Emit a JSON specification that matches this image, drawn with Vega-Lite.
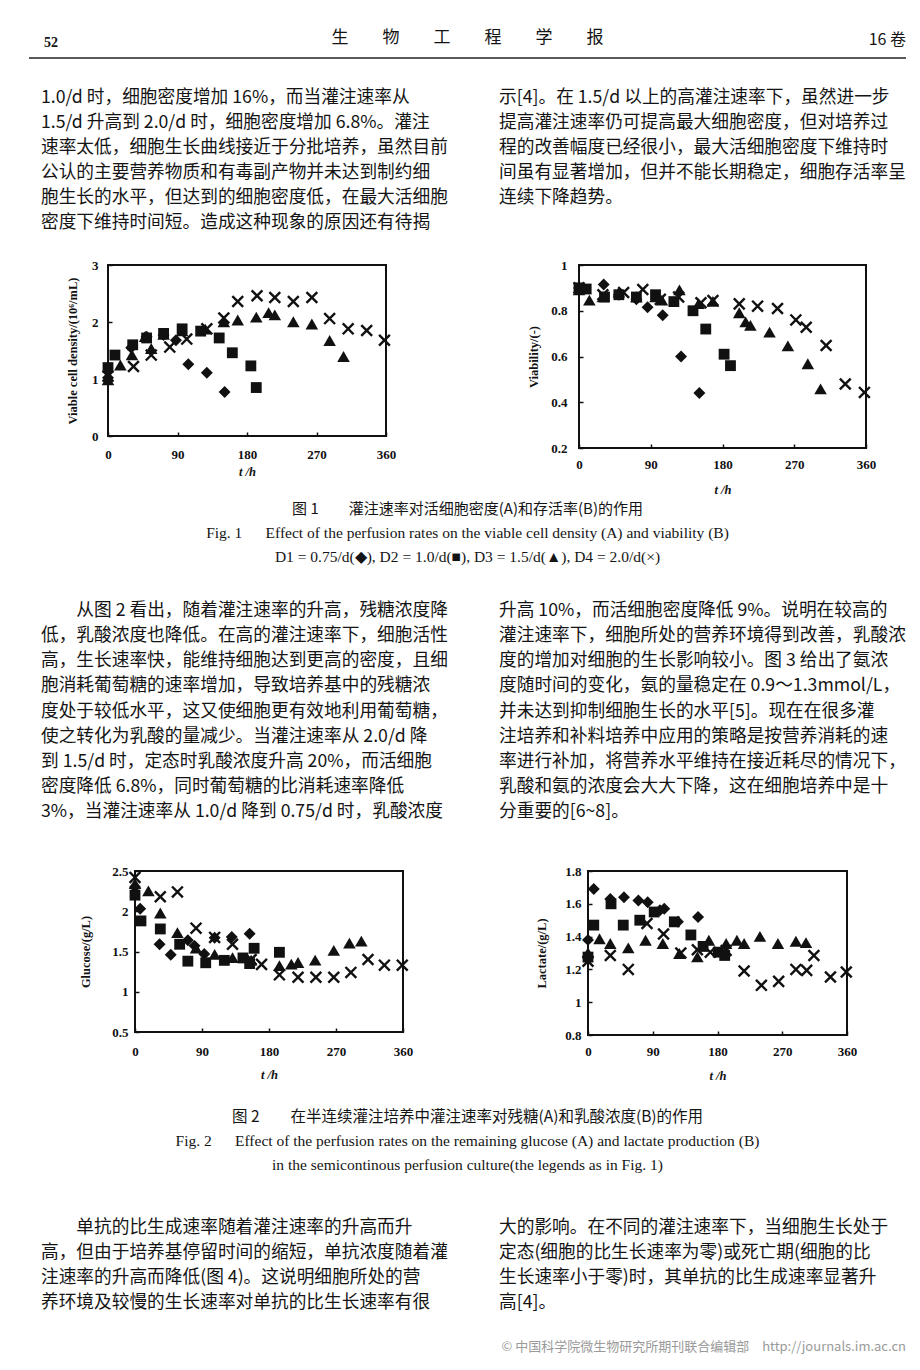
{
  "$schema": "https://vega.github.io/schema/vega-lite/v6.json",
  "background": "white",
  "padding": {"left": 28, "top": 28, "right": 0, "bottom": 0},
  "spacing": 0,
  "datasets": {
    "header": [
      {"slot": "left", "text": "52"},
      {"slot": "center", "text": "生\u3000\u3000物\u3000\u3000工\u3000\u3000程\u3000\u3000学\u3000\u3000报"},
      {"slot": "right", "text": "16 卷"}
    ],
    "para1": [
      {"col": "L", "line": 1, "text": "1.0/d 时，细胞密度增加 16%，而当灌注速率从"},
      {"col": "L", "line": 2, "text": "1.5/d 升高到 2.0/d 时，细胞密度增加 6.8%。灌注"},
      {"col": "L", "line": 3, "text": "速率太低，细胞生长曲线接近于分批培养，虽然目前"},
      {"col": "L", "line": 4, "text": "公认的主要营养物质和有毒副产物并未达到制约细"},
      {"col": "L", "line": 5, "text": "胞生长的水平，但达到的细胞密度低，在最大活细胞"},
      {"col": "L", "line": 6, "text": "密度下维持时间短。造成这种现象的原因还有待揭"},
      {"col": "R", "line": 1, "text": "示[4]。在 1.5/d 以上的高灌注速率下，虽然进一步"},
      {"col": "R", "line": 2, "text": "提高灌注速率仍可提高最大细胞密度，但对培养过"},
      {"col": "R", "line": 3, "text": "程的改善幅度已经很小，最大活细胞密度下维持时"},
      {"col": "R", "line": 4, "text": "间虽有显著增加，但并不能长期稳定，细胞存活率呈"},
      {"col": "R", "line": 5, "text": "连续下降趋势。"}
    ],
    "para2": [
      {"col": "L", "line": 1, "text": "\u200b\u3000\u3000从图 2 看出，随着灌注速率的升高，残糖浓度降"},
      {"col": "L", "line": 2, "text": "低，乳酸浓度也降低。在高的灌注速率下，细胞活性"},
      {"col": "L", "line": 3, "text": "高，生长速率快，能维持细胞达到更高的密度，且细"},
      {"col": "L", "line": 4, "text": "胞消耗葡萄糖的速率增加，导致培养基中的残糖浓"},
      {"col": "L", "line": 5, "text": "度处于较低水平，这又使细胞更有效地利用葡萄糖，"},
      {"col": "L", "line": 6, "text": "使之转化为乳酸的量减少。当灌注速率从 2.0/d 降"},
      {"col": "L", "line": 7, "text": "到 1.5/d 时，定态时乳酸浓度升高 20%，而活细胞"},
      {"col": "L", "line": 8, "text": "密度降低 6.8%，同时葡萄糖的比消耗速率降低"},
      {"col": "L", "line": 9, "text": "3%，当灌注速率从 1.0/d 降到 0.75/d 时，乳酸浓度"},
      {"col": "R", "line": 1, "text": "升高 10%，而活细胞密度降低 9%。说明在较高的"},
      {"col": "R", "line": 2, "text": "灌注速率下，细胞所处的营养环境得到改善，乳酸浓"},
      {"col": "R", "line": 3, "text": "度的增加对细胞的生长影响较小。图 3 给出了氨浓"},
      {"col": "R", "line": 4, "text": "度随时间的变化，氨的量稳定在 0.9～1.3mmol/L，"},
      {"col": "R", "line": 5, "text": "并未达到抑制细胞生长的水平[5]。现在在很多灌"},
      {"col": "R", "line": 6, "text": "注培养和补料培养中应用的策略是按营养消耗的速"},
      {"col": "R", "line": 7, "text": "率进行补加，将营养水平维持在接近耗尽的情况下，"},
      {"col": "R", "line": 8, "text": "乳酸和氨的浓度会大大下降，这在细胞培养中是十"},
      {"col": "R", "line": 9, "text": "分重要的[6~8]。"}
    ],
    "para3": [
      {"col": "L", "line": 1, "text": "\u200b\u3000\u3000单抗的比生成速率随着灌注速率的升高而升"},
      {"col": "L", "line": 2, "text": "高，但由于培养基停留时间的缩短，单抗浓度随着灌"},
      {"col": "L", "line": 3, "text": "注速率的升高而降低(图 4)。这说明细胞所处的营"},
      {"col": "L", "line": 4, "text": "养环境及较慢的生长速率对单抗的比生长速率有很"},
      {"col": "R", "line": 1, "text": "大的影响。在不同的灌注速率下，当细胞生长处于"},
      {"col": "R", "line": 2, "text": "定态(细胞的比生长速率为零)或死亡期(细胞的比"},
      {"col": "R", "line": 3, "text": "生长速率小于零)时，其单抗的比生成速率显著升"},
      {"col": "R", "line": 4, "text": "高[4]。"}
    ],
    "cap1": [
      {"line": 1, "lang": "zh", "text": "图 1\u3000\u3000灌注速率对活细胞密度(A)和存活率(B)的作用"},
      {"line": 2, "lang": "en", "text": "Fig. 1\u2003\u2002Effect of the perfusion rates on the viable cell density (A) and viability (B)"},
      {"line": 3, "lang": "en", "text": "D1 = 0.75/d(◆), D2 = 1.0/d(■), D3 = 1.5/d(▲), D4 = 2.0/d(×)"}
    ],
    "cap2": [
      {"line": 1, "lang": "zh", "text": "图 2\u3000\u3000在半连续灌注培养中灌注速率对残糖(A)和乳酸浓度(B)的作用"},
      {"line": 2, "lang": "en", "text": "Fig. 2\u2003\u2002Effect of the perfusion rates on the remaining glucose (A) and lactate production (B)"},
      {"line": 3, "lang": "en", "text": "in the semicontinous perfusion culture(the legends as in Fig. 1)"}
    ],
    "footer": [
      {"text": "© 中国科学院微生物研究所期刊联合编辑部\u2003http://journals.im.ac.cn"}
    ],
    "vcd": [
      {"s": "D1", "t": 0, "v": 1.02}, {"s": "D1", "t": 30, "v": 1.55}, {"s": "D1", "t": 50, "v": 1.74}, {"s": "D1", "t": 72, "v": 1.77}, {"s": "D1", "t": 88, "v": 1.68}, {"s": "D1", "t": 104, "v": 1.26}, {"s": "D1", "t": 128, "v": 1.11}, {"s": "D1", "t": 151, "v": 0.77},
      {"s": "D2", "t": 0, "v": 1.2}, {"s": "D2", "t": 9, "v": 1.42}, {"s": "D2", "t": 32, "v": 1.6}, {"s": "D2", "t": 50, "v": 1.72}, {"s": "D2", "t": 72, "v": 1.8}, {"s": "D2", "t": 96, "v": 1.88}, {"s": "D2", "t": 120, "v": 1.84}, {"s": "D2", "t": 144, "v": 1.72}, {"s": "D2", "t": 161, "v": 1.46}, {"s": "D2", "t": 185, "v": 1.23}, {"s": "D2", "t": 192, "v": 0.85},
      {"s": "D3", "t": 0, "v": 0.98}, {"s": "D3", "t": 16, "v": 1.24}, {"s": "D3", "t": 31, "v": 1.42}, {"s": "D3", "t": 48, "v": 1.74}, {"s": "D3", "t": 56, "v": 1.53}, {"s": "D3", "t": 72, "v": 1.78}, {"s": "D3", "t": 96, "v": 1.84}, {"s": "D3", "t": 126, "v": 1.87}, {"s": "D3", "t": 150, "v": 2.0}, {"s": "D3", "t": 168, "v": 2.03}, {"s": "D3", "t": 192, "v": 2.08}, {"s": "D3", "t": 208, "v": 2.16}, {"s": "D3", "t": 216, "v": 2.12}, {"s": "D3", "t": 240, "v": 2.0}, {"s": "D3", "t": 264, "v": 1.96}, {"s": "D3", "t": 287, "v": 1.67}, {"s": "D3", "t": 305, "v": 1.39},
      {"s": "D4", "t": 0, "v": 1.05}, {"s": "D4", "t": 33, "v": 1.22}, {"s": "D4", "t": 56, "v": 1.42}, {"s": "D4", "t": 80, "v": 1.56}, {"s": "D4", "t": 102, "v": 1.7}, {"s": "D4", "t": 128, "v": 1.88}, {"s": "D4", "t": 150, "v": 2.07}, {"s": "D4", "t": 168, "v": 2.36}, {"s": "D4", "t": 193, "v": 2.46}, {"s": "D4", "t": 216, "v": 2.43}, {"s": "D4", "t": 240, "v": 2.36}, {"s": "D4", "t": 264, "v": 2.43}, {"s": "D4", "t": 287, "v": 2.06}, {"s": "D4", "t": 311, "v": 1.88}, {"s": "D4", "t": 335, "v": 1.85}, {"s": "D4", "t": 358, "v": 1.68}
    ],
    "via": [
      {"s": "D1", "t": 0, "v": 0.9}, {"s": "D1", "t": 31, "v": 0.915}, {"s": "D1", "t": 50, "v": 0.87}, {"s": "D1", "t": 72, "v": 0.85}, {"s": "D1", "t": 86, "v": 0.815}, {"s": "D1", "t": 105, "v": 0.78}, {"s": "D1", "t": 128, "v": 0.6}, {"s": "D1", "t": 151, "v": 0.44},
      {"s": "D2", "t": 0, "v": 0.9}, {"s": "D2", "t": 9, "v": 0.895}, {"s": "D2", "t": 32, "v": 0.86}, {"s": "D2", "t": 50, "v": 0.87}, {"s": "D2", "t": 72, "v": 0.86}, {"s": "D2", "t": 96, "v": 0.87}, {"s": "D2", "t": 119, "v": 0.84}, {"s": "D2", "t": 143, "v": 0.8}, {"s": "D2", "t": 159, "v": 0.72}, {"s": "D2", "t": 182, "v": 0.61}, {"s": "D2", "t": 190, "v": 0.56},
      {"s": "D3", "t": 0, "v": 0.89}, {"s": "D3", "t": 13, "v": 0.845}, {"s": "D3", "t": 30, "v": 0.86}, {"s": "D3", "t": 50, "v": 0.88}, {"s": "D3", "t": 72, "v": 0.86}, {"s": "D3", "t": 96, "v": 0.86}, {"s": "D3", "t": 104, "v": 0.845}, {"s": "D3", "t": 126, "v": 0.89}, {"s": "D3", "t": 150, "v": 0.83}, {"s": "D3", "t": 168, "v": 0.84}, {"s": "D3", "t": 201, "v": 0.79}, {"s": "D3", "t": 209, "v": 0.75}, {"s": "D3", "t": 215, "v": 0.735}, {"s": "D3", "t": 239, "v": 0.705}, {"s": "D3", "t": 262, "v": 0.645}, {"s": "D3", "t": 287, "v": 0.567}, {"s": "D3", "t": 303, "v": 0.457},
      {"s": "D4", "t": 0, "v": 0.9}, {"s": "D4", "t": 30, "v": 0.87}, {"s": "D4", "t": 56, "v": 0.88}, {"s": "D4", "t": 80, "v": 0.893}, {"s": "D4", "t": 102, "v": 0.85}, {"s": "D4", "t": 125, "v": 0.86}, {"s": "D4", "t": 153, "v": 0.835}, {"s": "D4", "t": 168, "v": 0.845}, {"s": "D4", "t": 201, "v": 0.83}, {"s": "D4", "t": 224, "v": 0.82}, {"s": "D4", "t": 249, "v": 0.81}, {"s": "D4", "t": 272, "v": 0.76}, {"s": "D4", "t": 285, "v": 0.728}, {"s": "D4", "t": 310, "v": 0.648}, {"s": "D4", "t": 334, "v": 0.48}, {"s": "D4", "t": 358, "v": 0.443}
    ],
    "glc": [
      {"s": "D1", "t": 0, "v": 2.3}, {"s": "D1", "t": 7, "v": 2.03}, {"s": "D1", "t": 33, "v": 1.59}, {"s": "D1", "t": 48, "v": 1.46}, {"s": "D1", "t": 71, "v": 1.64}, {"s": "D1", "t": 80, "v": 1.57}, {"s": "D1", "t": 93, "v": 1.47}, {"s": "D1", "t": 107, "v": 1.67}, {"s": "D1", "t": 130, "v": 1.68}, {"s": "D1", "t": 154, "v": 1.72},
      {"s": "D2", "t": 0, "v": 2.2}, {"s": "D2", "t": 8, "v": 1.88}, {"s": "D2", "t": 34, "v": 1.78}, {"s": "D2", "t": 60, "v": 1.59}, {"s": "D2", "t": 71, "v": 1.38}, {"s": "D2", "t": 95, "v": 1.36}, {"s": "D2", "t": 120, "v": 1.39}, {"s": "D2", "t": 145, "v": 1.42}, {"s": "D2", "t": 154, "v": 1.35}, {"s": "D2", "t": 160, "v": 1.54}, {"s": "D2", "t": 194, "v": 1.49},
      {"s": "D3", "t": 0, "v": 2.34}, {"s": "D3", "t": 18, "v": 2.25}, {"s": "D3", "t": 34, "v": 1.975}, {"s": "D3", "t": 57, "v": 1.73}, {"s": "D3", "t": 82, "v": 1.54}, {"s": "D3", "t": 107, "v": 1.46}, {"s": "D3", "t": 131, "v": 1.42}, {"s": "D3", "t": 156, "v": 1.39}, {"s": "D3", "t": 194, "v": 1.32}, {"s": "D3", "t": 210, "v": 1.34}, {"s": "D3", "t": 219, "v": 1.36}, {"s": "D3", "t": 242, "v": 1.39}, {"s": "D3", "t": 267, "v": 1.51}, {"s": "D3", "t": 288, "v": 1.6}, {"s": "D3", "t": 304, "v": 1.625},
      {"s": "D4", "t": 0, "v": 2.42}, {"s": "D4", "t": 34, "v": 2.18}, {"s": "D4", "t": 57, "v": 2.24}, {"s": "D4", "t": 82, "v": 1.79}, {"s": "D4", "t": 107, "v": 1.675}, {"s": "D4", "t": 131, "v": 1.59}, {"s": "D4", "t": 156, "v": 1.4}, {"s": "D4", "t": 170, "v": 1.34}, {"s": "D4", "t": 194, "v": 1.21}, {"s": "D4", "t": 219, "v": 1.18}, {"s": "D4", "t": 243, "v": 1.18}, {"s": "D4", "t": 267, "v": 1.18}, {"s": "D4", "t": 290, "v": 1.24}, {"s": "D4", "t": 313, "v": 1.4}, {"s": "D4", "t": 335, "v": 1.33}, {"s": "D4", "t": 359, "v": 1.33}
    ],
    "lac": [
      {"s": "D1", "t": 0, "v": 1.38}, {"s": "D1", "t": 8, "v": 1.69}, {"s": "D1", "t": 31, "v": 1.63}, {"s": "D1", "t": 50, "v": 1.64}, {"s": "D1", "t": 70, "v": 1.62}, {"s": "D1", "t": 83, "v": 1.61}, {"s": "D1", "t": 100, "v": 1.56}, {"s": "D1", "t": 106, "v": 1.57}, {"s": "D1", "t": 125, "v": 1.49}, {"s": "D1", "t": 153, "v": 1.52},
      {"s": "D2", "t": 0, "v": 1.275}, {"s": "D2", "t": 8, "v": 1.47}, {"s": "D2", "t": 32, "v": 1.6}, {"s": "D2", "t": 49, "v": 1.47}, {"s": "D2", "t": 72, "v": 1.5}, {"s": "D2", "t": 92, "v": 1.55}, {"s": "D2", "t": 120, "v": 1.49}, {"s": "D2", "t": 143, "v": 1.41}, {"s": "D2", "t": 160, "v": 1.34}, {"s": "D2", "t": 181, "v": 1.305}, {"s": "D2", "t": 190, "v": 1.285},
      {"s": "D3", "t": 0, "v": 1.3}, {"s": "D3", "t": 16, "v": 1.385}, {"s": "D3", "t": 31, "v": 1.356}, {"s": "D3", "t": 56, "v": 1.33}, {"s": "D3", "t": 80, "v": 1.376}, {"s": "D3", "t": 104, "v": 1.356}, {"s": "D3", "t": 127, "v": 1.295}, {"s": "D3", "t": 152, "v": 1.275}, {"s": "D3", "t": 168, "v": 1.376}, {"s": "D3", "t": 192, "v": 1.356}, {"s": "D3", "t": 207, "v": 1.376}, {"s": "D3", "t": 217, "v": 1.356}, {"s": "D3", "t": 239, "v": 1.4}, {"s": "D3", "t": 264, "v": 1.356}, {"s": "D3", "t": 289, "v": 1.37}, {"s": "D3", "t": 303, "v": 1.362},
      {"s": "D4", "t": 0, "v": 1.25}, {"s": "D4", "t": 31, "v": 1.285}, {"s": "D4", "t": 56, "v": 1.2}, {"s": "D4", "t": 82, "v": 1.48}, {"s": "D4", "t": 105, "v": 1.416}, {"s": "D4", "t": 129, "v": 1.3}, {"s": "D4", "t": 152, "v": 1.32}, {"s": "D4", "t": 170, "v": 1.305}, {"s": "D4", "t": 192, "v": 1.315}, {"s": "D4", "t": 217, "v": 1.19}, {"s": "D4", "t": 241, "v": 1.103}, {"s": "D4", "t": 265, "v": 1.127}, {"s": "D4", "t": 289, "v": 1.2}, {"s": "D4", "t": 304, "v": 1.194}, {"s": "D4", "t": 314, "v": 1.285}, {"s": "D4", "t": 337, "v": 1.154}, {"s": "D4", "t": 359, "v": 1.184}
    ]
  },
  "vconcat": [
    {
      "width": 877, "height": 30,
      "data": {"name": "header"},
      "layer": [
        {"transform": [{"filter": "datum.slot === 'left'"}],
         "mark": {"type": "text", "align": "left", "baseline": "middle", "dx": 15, "font": "Liberation Serif", "fontSize": 14, "fontWeight": "bold", "color": "#141414"},
         "encoding": {"x": {"field": "slot", "type": "nominal", "scale": {"type": "point", "domain": ["left", "center", "right"], "padding": 0}, "axis": null}, "text": {"field": "text"}}},
        {"transform": [{"filter": "datum.slot === 'center'"}],
         "mark": {"type": "text", "align": "center", "baseline": "middle", "dy": -5, "font": "Noto Sans CJK SC", "fontSize": 17, "color": "#141414"},
         "encoding": {"x": {"field": "slot", "type": "nominal", "axis": null}, "text": {"field": "text"}}},
        {"transform": [{"filter": "datum.slot === 'right'"}],
         "mark": {"type": "text", "align": "right", "baseline": "middle", "dy": -3, "font": "Noto Sans CJK SC", "fontSize": 16, "color": "#141414"},
         "encoding": {"x": {"field": "slot", "type": "nominal", "axis": null}, "text": {"field": "text"}}},
        {"data": {"values": [{}]},
         "mark": {"type": "rule", "color": "#222", "strokeWidth": 1.4},
         "encoding": {"y": {"value": "height"}}}
      ]
    },
    {"width": 1, "height": 26, "data": {"values": []}, "mark": "text", "encoding": {}},
    {
      "width": 940, "height": 151,
      "data": {"name": "para1"},
      "mark": {"type": "text", "align": "left", "baseline": "middle", "font": "Noto Sans CJK SC", "fontSize": 17.7, "color": "#141414"},
      "encoding": {
        "x": {"field": "col", "type": "nominal", "bandPosition": 0, "scale": {"type": "band", "domain": ["L", "R"], "paddingInner": 0, "paddingOuter": 0.0262}, "axis": null},
        "y": {"field": "line", "type": "ordinal", "scale": {"type": "band", "paddingInner": 0, "paddingOuter": 0}, "axis": null},
        "text": {"field": "text"}
      }
    },
    {"width": 1, "height": 21.5, "data": {"values": []}, "mark": "text", "encoding": {}},
    {
      "bounds": "flush",
      "spacing": 0,
      "hconcat": [
        {"width": 79, "height": 232, "data": {"values": []}, "mark": "text", "encoding": {}},
        {
          "width": 278, "height": 171,
          "view": {"stroke": "#111", "strokeWidth": 2},
          "data": {"name": "vcd"},
          "encoding": {
            "x": {"field": "t", "type": "quantitative", "scale": {"domain": [0, 360], "nice": false}, "axis": {"values": [0, 90, 180, 270, 360], "title": "t /h", "labelPadding": 16.5, "titlePadding": 3.5}},
            "y": {"field": "v", "type": "quantitative", "scale": {"domain": [0, 3], "nice": false, "zero": false}, "axis": {"values": [0, 1, 2, 3], "format": "~g", "title": "Viable cell density/(10⁶/mL)", "labelPadding": 14, "titlePadding": 12}}
          },
          "layer": [
            {"transform": [{"filter": "datum.s !== 'D4'"}],
             "mark": {"type": "point", "filled": true, "size": 130, "opacity": 1, "color": "#111"},
             "encoding": {"shape": {"field": "s", "type": "nominal", "legend": null, "scale": {"domain": ["D1", "D2", "D3"], "range": ["M0,-1.05L1.05,0L0,1.05L-1.05,0Z", "M-0.95,-0.95L0.95,-0.95L0.95,0.95L-0.95,0.95Z", "M0,-1L1.1,0.9L-1.1,0.9Z"]}}}},
            {"transform": [{"filter": "datum.s === 'D4'"}],
             "mark": {"type": "point", "shape": "M-0.95,-0.95L0.95,0.95M-0.95,0.95L0.95,-0.95", "size": 130, "opacity": 1, "color": "#111", "strokeWidth": 2.4}},
            {"data": {"values": [{"label": "A"}]},
             "mark": {"type": "text", "font": "Liberation Serif", "fontSize": 14, "fontWeight": "bold", "color": "#111"},
             "encoding": {"x": {"datum": 331}, "y": {"datum": 0.47}, "text": {"field": "label"}}}
          ]
        },
        {"width": 193, "height": 232, "data": {"values": []}, "mark": "text", "encoding": {}},
        {
          "width": 287, "height": 183,
          "view": {"stroke": "#111", "strokeWidth": 2},
          "data": {"name": "via"},
          "encoding": {
            "x": {"field": "t", "type": "quantitative", "scale": {"domain": [0, 360], "nice": false}, "axis": {"values": [0, 90, 180, 270, 360], "title": "t /h", "labelPadding": 14, "titlePadding": 12}},
            "y": {"field": "v", "type": "quantitative", "scale": {"domain": [0.2, 1], "nice": false, "zero": false}, "axis": {"values": [0.2, 0.4, 0.6, 0.8, 1], "format": "~g", "title": "Viability/(-)", "labelPadding": 16, "titlePadding": 10}}
          },
          "layer": [
            {"transform": [{"filter": "datum.s !== 'D4'"}],
             "mark": {"type": "point", "filled": true, "size": 130, "opacity": 1, "color": "#111"},
             "encoding": {"shape": {"field": "s", "type": "nominal", "legend": null, "scale": {"domain": ["D1", "D2", "D3"], "range": ["M0,-1.05L1.05,0L0,1.05L-1.05,0Z", "M-0.95,-0.95L0.95,-0.95L0.95,0.95L-0.95,0.95Z", "M0,-1L1.1,0.9L-1.1,0.9Z"]}}}},
            {"transform": [{"filter": "datum.s === 'D4'"}],
             "mark": {"type": "point", "shape": "M-0.95,-0.95L0.95,0.95M-0.95,0.95L0.95,-0.95", "size": 130, "opacity": 1, "color": "#111", "strokeWidth": 2.4}},
            {"data": {"values": [{"label": "B"}]},
             "mark": {"type": "text", "font": "Liberation Serif", "fontSize": 14, "fontWeight": "bold", "color": "#111"},
             "encoding": {"x": {"datum": 21}, "y": {"datum": 0.314}, "text": {"field": "label"}}}
          ]
        }
      ]
    },
    {
      "width": 877, "height": 72,
      "data": {"name": "cap1"},
      "encoding": {
        "y": {"field": "line", "type": "ordinal", "scale": {"type": "band", "domain": [1, 2, 3], "paddingInner": 0, "paddingOuter": 0}, "axis": null},
        "text": {"field": "text"}
      },
      "layer": [
        {"transform": [{"filter": "datum.lang === 'zh'"}], "mark": {"type": "text", "baseline": "middle", "font": "Noto Sans CJK SC", "fontSize": 15, "color": "#141414"}},
        {"transform": [{"filter": "datum.lang === 'en'"}], "mark": {"type": "text", "baseline": "middle", "font": "Liberation Serif", "fontSize": 15.5, "color": "#141414"}}
      ]
    },
    {"width": 1, "height": 28.4, "data": {"values": []}, "mark": "text", "encoding": {}},
    {
      "width": 940, "height": 227,
      "data": {"name": "para2"},
      "mark": {"type": "text", "align": "left", "baseline": "middle", "font": "Noto Sans CJK SC", "fontSize": 17.7, "color": "#141414"},
      "encoding": {
        "x": {"field": "col", "type": "nominal", "bandPosition": 0, "scale": {"type": "band", "domain": ["L", "R"], "paddingInner": 0, "paddingOuter": 0.0262}, "axis": null},
        "y": {"field": "line", "type": "ordinal", "scale": {"type": "band", "paddingInner": 0, "paddingOuter": 0}, "axis": null},
        "text": {"field": "text"}
      }
    },
    {"width": 1, "height": 39, "data": {"values": []}, "mark": "text", "encoding": {}},
    {
      "bounds": "flush",
      "spacing": 0,
      "hconcat": [
        {"width": 106, "height": 234, "data": {"values": []}, "mark": "text", "encoding": {}},
        {
          "width": 268, "height": 161,
          "view": {"stroke": "#111", "strokeWidth": 2},
          "data": {"name": "glc"},
          "encoding": {
            "x": {"field": "t", "type": "quantitative", "scale": {"domain": [0, 360], "nice": false}, "axis": {"values": [0, 90, 180, 270, 360], "title": "t /h", "labelPadding": 17, "titlePadding": 10.5}},
            "y": {"field": "v", "type": "quantitative", "scale": {"domain": [0.5, 2.5], "nice": false, "zero": false}, "axis": {"values": [0.5, 1, 1.5, 2, 2.5], "format": "~g", "title": "Glucose/(g/L)", "labelPadding": 11, "titlePadding": 19}}
          },
          "layer": [
            {"transform": [{"filter": "datum.s !== 'D4'"}],
             "mark": {"type": "point", "filled": true, "size": 130, "opacity": 1, "color": "#111"},
             "encoding": {"shape": {"field": "s", "type": "nominal", "legend": null, "scale": {"domain": ["D1", "D2", "D3"], "range": ["M0,-1.05L1.05,0L0,1.05L-1.05,0Z", "M-0.95,-0.95L0.95,-0.95L0.95,0.95L-0.95,0.95Z", "M0,-1L1.1,0.9L-1.1,0.9Z"]}}}},
            {"transform": [{"filter": "datum.s === 'D4'"}],
             "mark": {"type": "point", "shape": "M-0.95,-0.95L0.95,0.95M-0.95,0.95L0.95,-0.95", "size": 130, "opacity": 1, "color": "#111", "strokeWidth": 2.4}},
            {"data": {"values": [{"label": "A"}]},
             "mark": {"type": "text", "font": "Liberation Serif", "fontSize": 14, "fontWeight": "bold", "color": "#111"},
             "encoding": {"x": {"datum": 37.6}, "y": {"datum": 0.88}, "text": {"field": "label"}}}
          ]
        },
        {"width": 185, "height": 234, "data": {"values": []}, "mark": "text", "encoding": {}},
        {
          "width": 259, "height": 164,
          "view": {"stroke": "#111", "strokeWidth": 2},
          "data": {"name": "lac"},
          "encoding": {
            "x": {"field": "t", "type": "quantitative", "scale": {"domain": [0, 360], "nice": false}, "axis": {"values": [0, 90, 180, 270, 360], "title": "t /h", "labelPadding": 14.5, "titlePadding": 10.5}},
            "y": {"field": "v", "type": "quantitative", "scale": {"domain": [0.8, 1.8], "nice": false, "zero": false}, "axis": {"values": [0.8, 1, 1.2, 1.4, 1.6, 1.8], "format": "~g", "title": "Lactate/(g/L)", "labelPadding": 11, "titlePadding": 16}}
          },
          "layer": [
            {"transform": [{"filter": "datum.s !== 'D4'"}],
             "mark": {"type": "point", "filled": true, "size": 130, "opacity": 1, "color": "#111"},
             "encoding": {"shape": {"field": "s", "type": "nominal", "legend": null, "scale": {"domain": ["D1", "D2", "D3"], "range": ["M0,-1.05L1.05,0L0,1.05L-1.05,0Z", "M-0.95,-0.95L0.95,-0.95L0.95,0.95L-0.95,0.95Z", "M0,-1L1.1,0.9L-1.1,0.9Z"]}}}},
            {"transform": [{"filter": "datum.s === 'D4'"}],
             "mark": {"type": "point", "shape": "M-0.95,-0.95L0.95,0.95M-0.95,0.95L0.95,-0.95", "size": 130, "opacity": 1, "color": "#111", "strokeWidth": 2.4}},
            {"data": {"values": [{"label": "B"}]},
             "mark": {"type": "text", "font": "Liberation Serif", "fontSize": 14, "fontWeight": "bold", "color": "#111"},
             "encoding": {"x": {"datum": 18}, "y": {"datum": 0.958}, "text": {"field": "label"}}}
          ]
        }
      ]
    },
    {
      "width": 877, "height": 72,
      "data": {"name": "cap2"},
      "encoding": {
        "y": {"field": "line", "type": "ordinal", "scale": {"type": "band", "domain": [1, 2, 3], "paddingInner": 0, "paddingOuter": 0}, "axis": null},
        "text": {"field": "text"}
      },
      "layer": [
        {"transform": [{"filter": "datum.lang === 'zh'"}], "mark": {"type": "text", "baseline": "middle", "font": "Noto Sans CJK SC", "fontSize": 15.5, "color": "#141414"}},
        {"transform": [{"filter": "datum.lang === 'en'"}], "mark": {"type": "text", "baseline": "middle", "font": "Liberation Serif", "fontSize": 15.5, "color": "#141414"}}
      ]
    },
    {"width": 1, "height": 37.4, "data": {"values": []}, "mark": "text", "encoding": {}},
    {
      "width": 940, "height": 101,
      "data": {"name": "para3"},
      "mark": {"type": "text", "align": "left", "baseline": "middle", "font": "Noto Sans CJK SC", "fontSize": 17.7, "color": "#141414"},
      "encoding": {
        "x": {"field": "col", "type": "nominal", "bandPosition": 0, "scale": {"type": "band", "domain": ["L", "R"], "paddingInner": 0, "paddingOuter": 0.0262}, "axis": null},
        "y": {"field": "line", "type": "ordinal", "scale": {"type": "band", "paddingInner": 0, "paddingOuter": 0}, "axis": null},
        "text": {"field": "text"}
      }
    },
    {"width": 1, "height": 18, "data": {"values": []}, "mark": "text", "encoding": {}},
    {
      "width": 877, "height": 25,
      "data": {"name": "footer"},
      "mark": {"type": "text", "align": "right", "baseline": "middle", "font": "Noto Sans CJK SC", "fontSize": 13, "color": "#9a9a9a"},
      "encoding": {"x": {"value": "width"}, "text": {"field": "text"}}
    }
  ],
  "config": {
    "view": {"stroke": null},
    "axis": {
      "grid": false,
      "domain": false,
      "ticks": true,
      "tickSize": -4,
      "tickWidth": 1.5,
      "tickColor": "#111",
      "labelFont": "Liberation Serif",
      "labelFontSize": 13,
      "labelFontWeight": "bold",
      "labelColor": "#111",
      "labelFlush": false,
      "labelOverlap": false,
      "titleFont": "Liberation Serif",
      "titleFontSize": 12.5,
      "titleFontWeight": "bold",
      "titleColor": "#111"
    },
    "axisX": {"titleFontStyle": "italic"}
  }
}
